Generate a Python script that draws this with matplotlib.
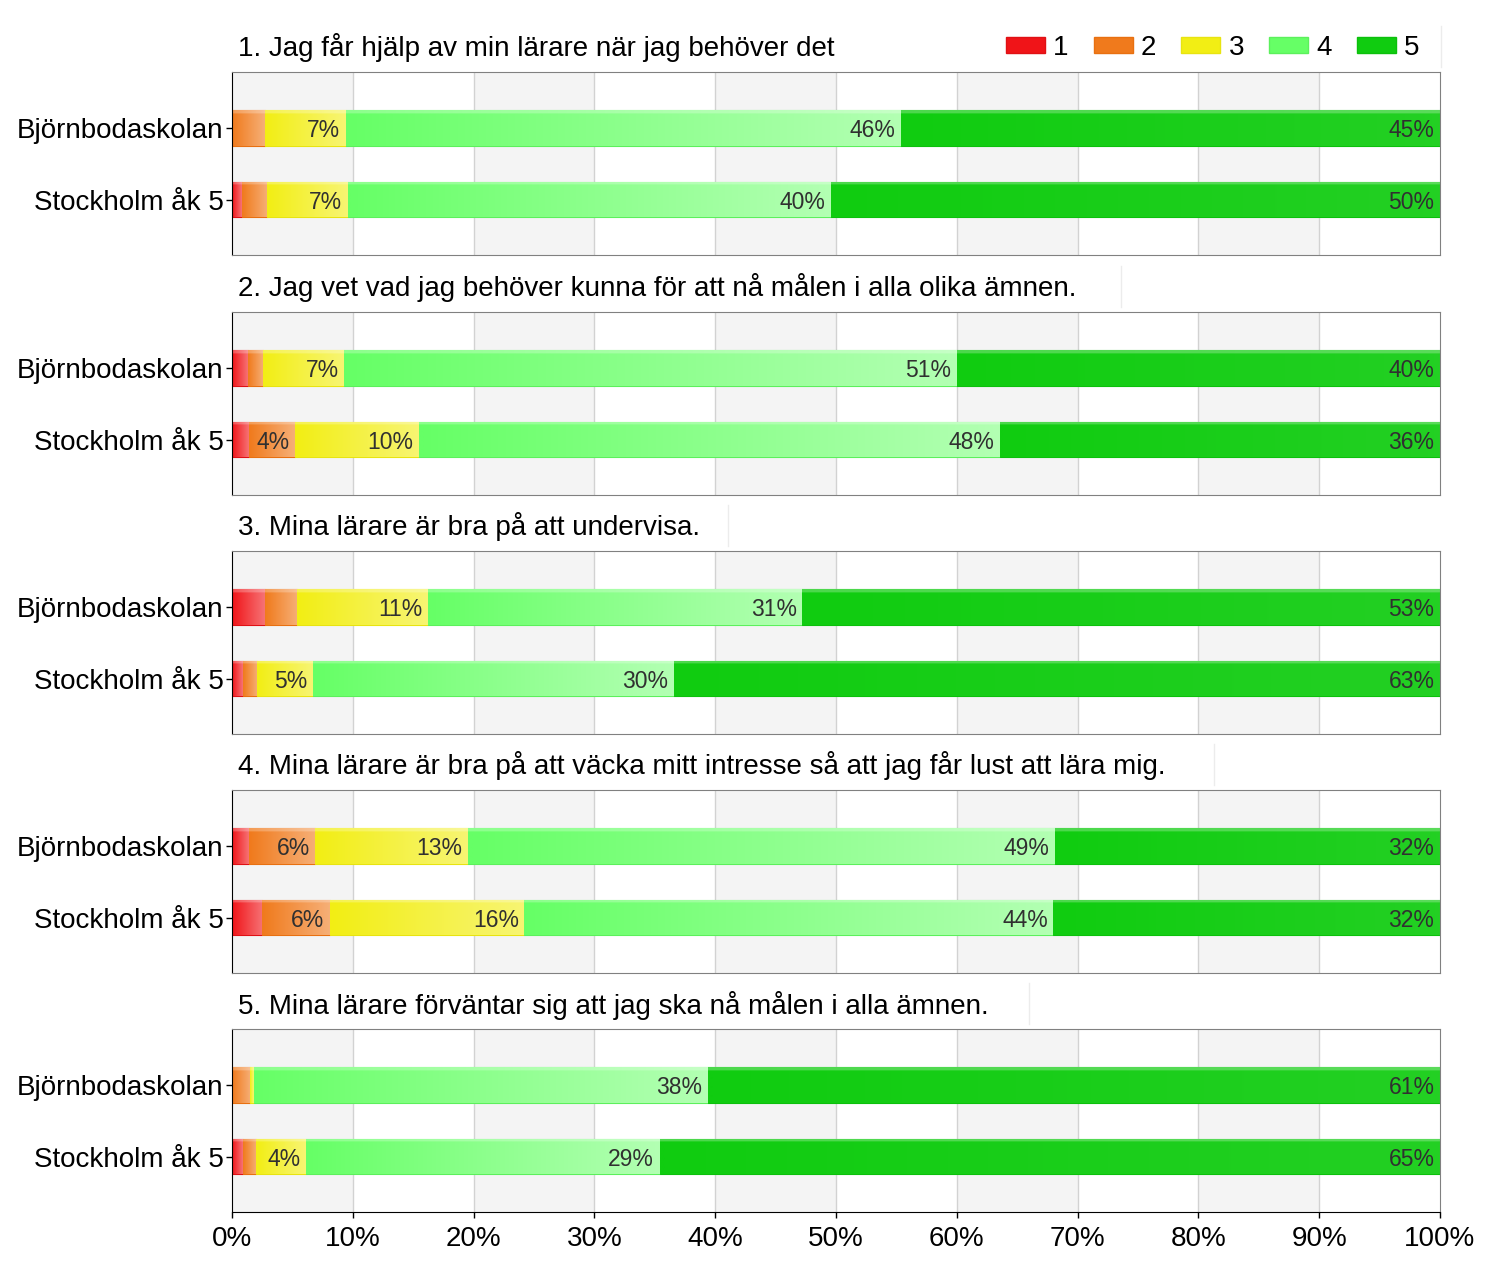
import numpy as np
import matplotlib
matplotlib.use("Agg")
import matplotlib.pyplot as plt
from matplotlib.colors import to_rgb
from matplotlib.patches import Patch

plt.rcParams['font.family'] = ['Liberation Sans', 'DejaVu Sans']

# --- data (percent per answer 1..5) ---
groups = ["Björnbodaskolan", "Stockholm åk 5"]
questions = [
    "1. Jag får hjälp av min lärare när jag behöver det",
    "2. Jag vet vad jag behöver kunna för att nå målen i alla olika ämnen.",
    "3. Mina lärare är bra på att undervisa.",
    "4. Mina lärare är bra på att väcka mitt intresse så att jag får lust att lära mig.",
    "5. Mina lärare förväntar sig att jag ska nå målen i alla ämnen.",
]
answers = ["1", "2", "3", "4", "5"]
ans1 = [[0.0, 0.8], [1.3, 1.4], [2.7, 0.9], [1.4, 2.5], [0.0, 0.9]]
ans2 = [[2.7, 2.1], [1.3, 3.8], [2.7, 1.2], [5.5, 5.6], [1.5, 1.1]]
ans3 = [[6.7, 6.7], [6.7, 10.3], [10.8, 4.6], [12.6, 16.1], [0.3, 4.1]]
ans4 = [[46.0, 40.0], [50.7, 48.1], [31.0, 29.9], [48.6, 43.8], [37.6, 29.3]]
ans5 = [[44.6, 50.4], [40.0, 36.4], [52.8, 63.4], [31.9, 32.0], [60.6, 64.6]]
xticks = [0, 10, 20, 30, 40, 50, 60, 70, 80, 90, 100]

colors = ["#f01418", "#f07a1c", "#f2ee14", "#66ff66", "#10cc10"]
edges = ["#e01014", "#e87010", "#e8e410", "#5cf05c", "#0cc00c"]
light = [0.4, 0.4, 0.4, 0.5, 0.08]   # how much the segment whitens to the right
title_edge = [100.1, 73.6, 41.1, 81.3, 66.0]  # faint line after each title

W, H = 1500, 1270
fig = plt.figure(figsize=(W / 100, H / 100), dpi=100)
tops = [72, 312, 551, 790, 1029]
ph = 183
bar_h = 0.49


def gradient_img(col, amount):
    r, g, b = to_rgb(col)
    nx, ny = 64, 32
    gx = np.linspace(0, amount, nx)[None, :]
    gy = np.linspace(0, 1, ny)[:, None]
    top = np.where(gy < 0.08, 0.25, 0.0)          # thin highlight on top
    w = np.clip(gx + top * (1 - gx), 0, 1)
    img = np.zeros((ny, nx, 3))
    for k, c in enumerate((r, g, b)):
        img[:, :, k] = np.clip(c + (1 - c) * w, 0, 1)
    return img


data = [ans1, ans2, ans3, ans4, ans5]
for qi, q in enumerate(questions):
    ax = fig.add_axes([232 / W, 1 - (tops[qi] + ph) / H, 1208 / W, ph / H])
    # alternating column bands
    for j in range(0, 100, 20):
        ax.axvspan(j, j + 10, color="#f4f4f4", zorder=0, lw=0)
    for t in xticks[1:-1]:
        ax.axvline(t, color="#d2d2d2", lw=1, zorder=0.5)

    vals = [data[k][qi] for k in range(5)]
    ypos = np.arange(len(groups))
    left = np.zeros(len(groups))
    for k in range(5):
        v = np.array(vals[k])
        bars = ax.barh(ypos, v, left=left, height=bar_h, color=colors[k],
                       edgecolor=edges[k], lw=0.8, zorder=2)
        for b, vv, l in zip(bars, v, left):
            if vv <= 0:
                continue
            y0 = b.get_y()
            im = ax.imshow(gradient_img(colors[k], light[k]), aspect="auto",
                           extent=[l, l + vv, y0 + bar_h, y0], zorder=2.5,
                           interpolation="bilinear")
            im.set_clip_path(b)
            if vv >= 3.5:
                ax.annotate(f"{round(vv)}%", xy=(l + vv, b.get_y() + bar_h / 2),
                            xytext=(-4, -2), textcoords="offset points",
                            ha="right", va="center", fontsize=16.5,
                            color="#303030", zorder=4)
        left = left + v

    ax.set_xlim(0, 100)
    ax.set_ylim(1.77, -0.78)
    ax.set_yticks(ypos)
    ax.set_yticklabels(groups, fontsize=20)
    ax.tick_params(axis="y", length=4, width=1, pad=2)
    ax.set_xticks(xticks)
    if qi == len(questions) - 1:
        ax.set_xticklabels([f"{t}%" for t in xticks], fontsize=20)
        ax.tick_params(axis="x", length=4, width=1, pad=6)
        ax.spines["bottom"].set_color("black")
    else:
        ax.set_xticklabels([])
        ax.tick_params(axis="x", length=0)
        ax.spines["bottom"].set_color("#808080")
    ax.spines["left"].set_color("black")
    for s in ("top", "right"):
        ax.spines[s].set_color("#808080")

    ax.text(0.005, 1 + 24 / ph, q, transform=ax.transAxes, ha="left",
            va="center", fontsize=20)
    ax.plot([title_edge[qi]] * 2, [1.03, 1.25], transform=ax.get_xaxis_transform(),
            color="#ececec", lw=1, clip_on=False)

    if qi == 0:
        handles = [Patch(facecolor=colors[k], edgecolor=edges[k]) for k in range(5)]
        ax.legend(handles, answers, loc="center right",
                  bbox_to_anchor=(0.983, 1 + 24 / ph), ncol=5, frameon=False,
                  fontsize=20, handlelength=1.4, handleheight=0.5,
                  handletextpad=0.3, columnspacing=0.9, borderpad=0,
                  borderaxespad=0)

fig.savefig("out.png", dpi=100)
